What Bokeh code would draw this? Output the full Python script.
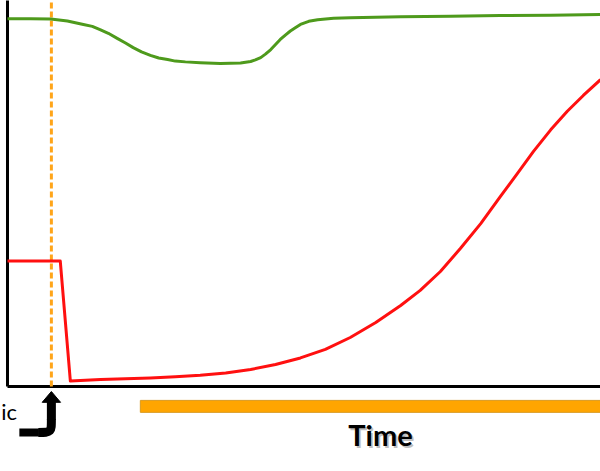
import numpy as np
from bokeh.plotting import figure
from bokeh.models import Range1d
from bokeh.core.properties import value
from bokeh.embed import file_html
from bokeh.resources import INLINE

# ---- data (time in arbitrary units 0..100, level in arbitrary units 0..100) ----
green_t = [0, 3.9, 7.3, 10.1, 12.8, 14.3, 15.7, 17.0, 18.5, 19.9, 21.2, 22.6, 24.1, 25.5, 27.0,
           28.3, 30.0, 32.5, 35.9, 39.3, 41.0, 41.8, 42.7, 43.5, 44.4, 45.2, 46.0, 46.9, 47.7,
           48.6, 49.4, 50.8, 52.3, 55.0, 57.8, 66.3, 74.7, 83.1, 91.6, 100]
green_v = [95.3, 95.3, 95.2, 94.7, 93.8, 93.3, 92.4, 91.5, 90.2, 89.0, 87.8, 86.7, 85.8, 85.1, 84.7,
           84.3, 84.1, 83.9, 83.7, 83.8, 84.2, 84.6, 85.2, 86.1, 87.3, 88.6, 89.9, 91.1, 92.1,
           93.0, 93.8, 94.6, 95.0, 95.4, 95.5, 95.8, 95.9, 96.1, 96.2, 96.4]

red_t = [0, 8.9, 10.6, 15.7, 19.9, 24.1, 28.3, 32.5, 36.8, 41.0, 45.2, 49.4, 53.6, 57.8,
         62.1, 66.3, 69.6, 73.0, 76.4, 79.8, 83.1, 86.0, 88.7, 91.6, 94.4, 97.1, 100]
red_v = [32.5, 32.5, 1.4, 1.8, 2.0, 2.2, 2.5, 2.9, 3.5, 4.4, 5.7, 7.4, 9.6, 12.7,
         16.6, 21.0, 24.9, 29.8, 35.8, 42.2, 49.2, 55.2, 60.9, 66.5, 71.3, 75.4, 79.5]

event_t = 7.4          # time of the event (dashed line)
period_start = 22.4    # start of the highlighted period (orange bar)
period_end = 101.0
x_label = "Time"
event_label = "ic"

T_MIN, T_MAX = 0, 100
V_MIN, V_MAX = 0, 100

p = figure(width=600, height=471, output_backend="svg", toolbar_location=None,
           x_range=Range1d(-1.18, 100), y_range=Range1d(-22.02, 100),
           min_border=0, outline_line_color=None, background_fill_color="white",
           border_fill_color="white")
p.xaxis.visible = False
p.yaxis.visible = False
p.xgrid.visible = False
p.ygrid.visible = False

# axes lines
p.segment(x0=[T_MIN, T_MIN], y0=[V_MIN, V_MIN], x1=[T_MIN, T_MAX + 2], y1=[V_MAX + 1, V_MIN],
          line_color="black", line_width=3)

# event dashed line
p.segment(x0=[event_t], y0=[V_MIN], x1=[event_t], y1=[V_MAX + 1],
          line_color="#FFA51A", line_width=3, line_dash="6 3")

# series
p.line(green_t, green_v, line_color="#4E9A1C", line_width=3, line_join="round")
p.line(red_t, red_v, line_color="#FF1010", line_width=3, line_join="round")

# period bar
p.quad(left=[period_start], right=[period_end], top=[-3.6], bottom=[-6.7],
       fill_color="#FFA500", line_color="#D99A20", line_width=1)

# arrow pointing at the event
p.segment(x0=[event_t], y0=[-3.6], x1=[event_t], y1=[-8.6], line_color="black", line_width=9)
p.bezier(x0=[event_t], y0=[-8.4], x1=[event_t - 2.2], y1=[-11.9],
         cx0=[event_t], cy0=[-11.9], cx1=[event_t], cy1=[-11.9],
         line_color="black", line_width=9)
p.segment(x0=[event_t - 2.1], y0=[-11.9], x1=[2.0], y1=[-11.9], line_color="black", line_width=8)
p.patch(x=[event_t - 1.55, event_t, event_t + 1.55], y=[-4.1, -1.3, -4.1], color="black")

# labels
p.text(x=[1.6], y=[-6.4], text=[event_label], text_font=value("Lato"), text_font_size="22px",
       text_color="black", text_align="right", text_baseline="alphabetic")
p.text(x=[63.2], y=[-13.0], text=[x_label], text_font=value("Lato"), text_font_size="29px",
       text_font_style="bold", text_color="#808080", text_alpha=0.5,
       text_align="center", text_baseline="alphabetic")
p.text(x=[62.9], y=[-12.5], text=[x_label], text_font=value("Lato"), text_font_size="29px",
       text_font_style="bold", text_color="black", text_align="center", text_baseline="alphabetic")

open("out.html", "w").write(file_html(p, INLINE))
